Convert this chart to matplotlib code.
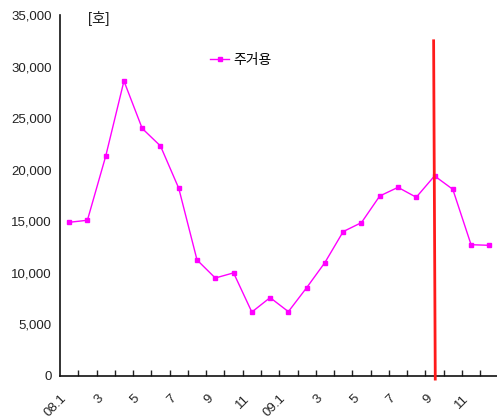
import matplotlib.pyplot as plt
from matplotlib.ticker import FuncFormatter, FixedLocator

plt.rcParams['font.family'] = ['Liberation Sans', 'Noto Sans CJK KR']

# monthly units, 2008.1 - 2009.12
months = ["08.1", "2", "3", "4", "5", "6", "7", "8", "9", "10", "11", "12",
          "09.1", "2", "3", "4", "5", "6", "7", "8", "9", "10", "11", "12"]
residential = [14900, 15100, 21300, 28600, 24000, 22300, 18200, 11250, 9500, 10000, 6200, 7600,
               6240, 8560, 11000, 14000, 14870, 17450, 18290, 17330, 19400, 18100, 12730, 12670]
series_name = "주거용"
unit_label = "[호]"
marker_month = 20          # 09.9
marker_top = 32500
marker_bottom = -300

W, H = 497, 418
fig = plt.figure(figsize=(W / 100, H / 100), dpi=100)
ax = fig.add_axes([60 / W, (H - 376) / H, (W - 60) / W, (376 - 15) / H])

x = list(range(len(months)))
ax.plot(x, residential, color="#ff00ff", lw=1, marker="s", ms=3.2, mec="#ff00ff", label=series_name)

# vertical red marker, slightly leaning like a hand-drawn line
ax.plot([marker_month - 0.05, marker_month + 0.04], [marker_top, marker_bottom],
        color="#ff1a1a", lw=2, clip_on=False, zorder=5)

ax.set_ylim(0, 35000)
ax.set_yticks(range(0, 35001, 5000))
ax.yaxis.set_major_formatter(FuncFormatter(lambda v, p: f"{int(v):,}"))
ax.tick_params(axis="y", length=0, pad=6, labelsize=9.5, colors="#222222")

step = 18.27 / 437
ax.set_xlim(-0.5, -0.5 + 1 / step)
label_pos = [i for i in x if i % 2 == 0]
ax.xaxis.set_major_locator(FixedLocator(label_pos))
ax.set_xticklabels([months[i] for i in label_pos], rotation=45, ha="right", va="top")
ax.xaxis.set_minor_locator(FixedLocator([i + 0.5 for i in x]))
ax.tick_params(axis="x", which="major", length=0, pad=12, labelsize=9.5, colors="#222222")
ax.tick_params(axis="x", which="minor", direction="in", length=4, width=1, color="#222222")

for side in ("top", "right"):
    ax.spines[side].set_visible(False)
for side in ("left", "bottom"):
    ax.spines[side].set_color("#111111")
    ax.spines[side].set_linewidth(1.2)

ax.legend(loc="center left", bbox_to_anchor=((210 - 60) / 437, (376 - 60) / 361), frameon=False,
          fontsize=10, handlelength=1.4, handletextpad=0.3, borderpad=0, borderaxespad=0)

fig.text(88 / W, 1 - 18 / H, unit_label, fontsize=10.5, va="center", ha="left", color="#222222")

fig.savefig("out.png", dpi=100)
